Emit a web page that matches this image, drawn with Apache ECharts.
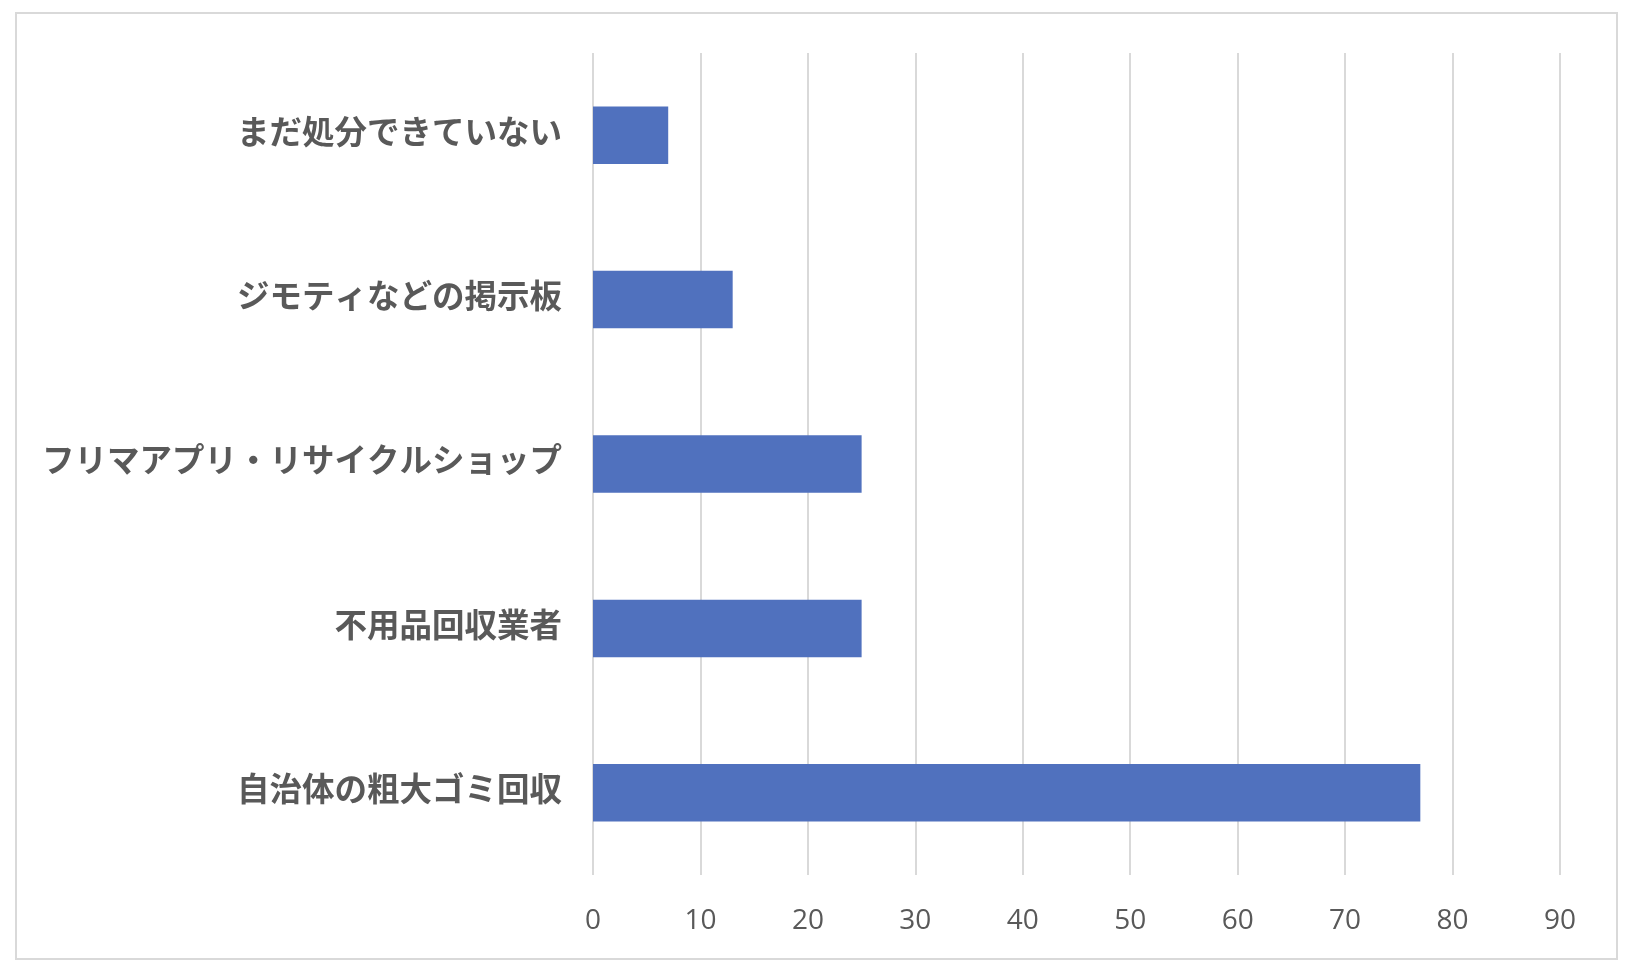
<!DOCTYPE html>
<html>
<head>
<meta charset="utf-8">
<script src="https://cdn.jsdelivr.net/npm/echarts@6/dist/echarts.min.js"></script>
<style>
  html, body { margin: 0; padding: 0; background: #fff; }
  #chart { width: 1632px; height: 970px; }
</style>
</head>
<body>
<div id="chart"></div>
<script>
var categories = ['自治体の粗大ゴミ回収', '不用品回収業者', 'フリマアプリ・リサイクルショップ', 'ジモティなどの掲示板', 'まだ処分できていない'];
var counts = [77, 25, 25, 13, 7];
var xTicks = { min: 0, max: 90, step: 10 };

var myChart = echarts.init(document.getElementById('chart'));

var option = {
    backgroundColor: '#ffffff',
    animation: false,
    graphic: [{
        type: 'rect',
        shape: { x: 16, y: 13, width: 1601, height: 946 },
        style: { fill: 'none', stroke: '#d9d9d9', lineWidth: 2 }
    }],
    grid: { left: 593, right: 72, top: 53, bottom: 95, containLabel: false },
    xAxis: {
        type: 'value',
        min: xTicks.min,
        max: xTicks.max,
        interval: xTicks.step,
        axisLine: { show: false },
        axisTick: { show: false },
        splitLine: { lineStyle: { color: '#d9d9d9', width: 2 } },
        axisLabel: {
            color: '#595959',
            fontSize: 28,
            fontFamily: 'Open Sans',
            margin: 32
        }
    },
    yAxis: {
        type: 'category',
        data: categories,
        axisLine: { show: false },
        axisTick: { show: false },
        axisLabel: {
            margin: 31,
            formatter: '{a|{value}}',
            rich: {
                a: {
                    color: '#595959',
                    fontSize: 32.5,
                    fontWeight: 'bold',
                    fontFamily: 'Noto Sans CJK JP',
                    padding: [0, 0, 8, 0]
                }
            }
        }
    },
    series: [{
        type: 'bar',
        data: counts,
        barWidth: '35%',
        itemStyle: { color: '#5071BE' }
    }]
};

myChart.setOption(option);
</script>
</body>
</html>
